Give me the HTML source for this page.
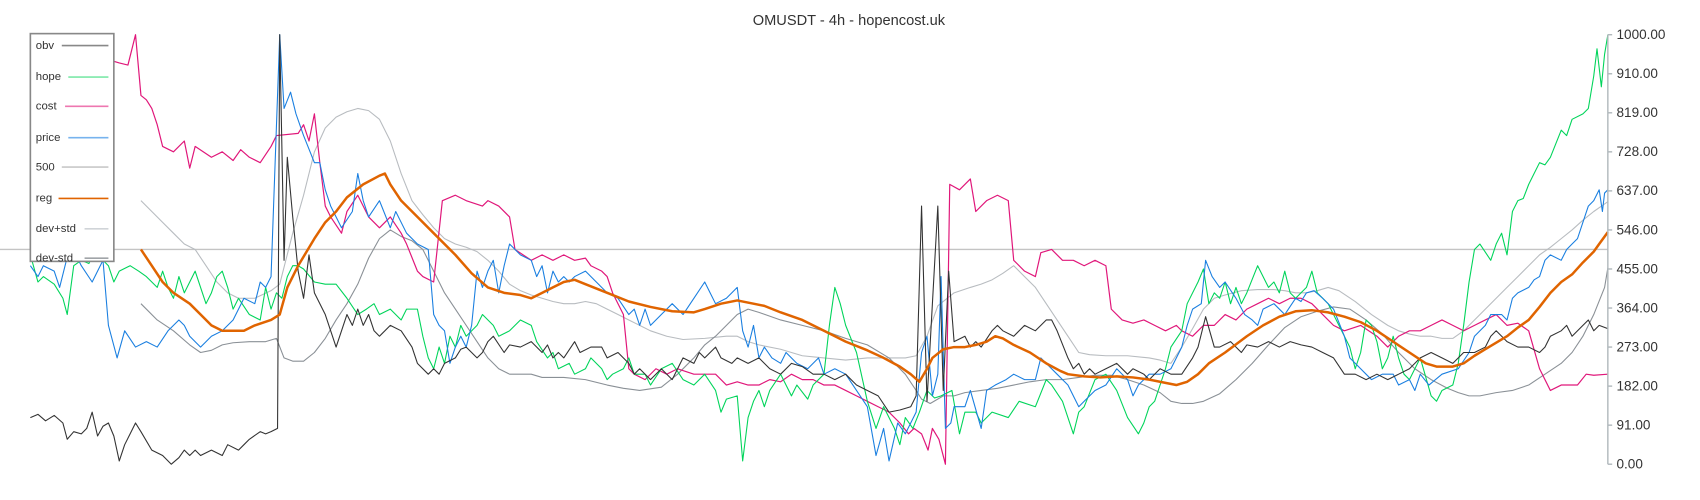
<!DOCTYPE html>
<html><head><meta charset="utf-8"><style>
html,body{margin:0;padding:0;background:#fff;}
svg{display:block;}
text{font-family:"Liberation Sans",sans-serif;fill:#333;}
</style></head><body>
<svg width="1700" height="500" viewBox="0 0 1568 461" preserveAspectRatio="none" xmlns="http://www.w3.org/2000/svg">
<rect width="1568" height="461" fill="#fff"/>
<text x="783" y="23" font-size="13.5" text-anchor="middle" fill="#333">OMUSDT - 4h - hopencost.uk</text>
<line x1="0" y1="230" x2="1483" y2="230" stroke="#c4c4c4" stroke-width="1.3"/>
<g fill="none" stroke-linejoin="round">
<polyline stroke="#b8bcc0" stroke-width="1" points="130,185 140,195 150,205 160,215 170,225 180,230 190,245 200,260 210,270 220,275 235,275 250,268 258,262 270,215 280,180 290,140 300,118 310,108 320,103 330,100 340,102 350,110 360,130 370,160 380,185 390,198 400,210 410,220 420,225 430,228 440,232 450,240 460,250 470,262 480,268 490,272 500,275 510,278 520,280 530,280 540,278 550,280 560,285 570,290 580,295 590,300 600,305 615,310 630,313 650,312 670,310 680,310 690,315 700,318 720,322 740,328 760,330 780,332 800,330 820,330 835,330 845,328 855,310 865,282 880,270 895,265 905,262 915,258 925,252 935,245 945,255 955,265 965,280 975,295 985,310 995,325 1005,327 1020,328 1040,328 1060,330 1070,332 1080,335 1090,320 1100,303 1110,285 1120,275 1130,272 1145,268 1160,267 1175,267 1185,268 1195,270 1205,270 1215,268 1225,265 1235,268 1250,278 1265,290 1280,300 1290,305 1300,308 1310,310 1320,310 1330,312 1340,312 1350,305 1360,295 1370,285 1380,275 1390,265 1400,255 1410,245 1420,235 1430,228 1440,220 1450,212 1460,203 1470,195 1480,188 1483,186"/>
<polyline stroke="#8a9096" stroke-width="1" points="130,280 145,295 160,305 175,318 185,325 195,323 205,318 215,316 230,315 245,315 255,312 262,330 270,333 280,333 290,325 300,312 310,295 320,280 330,262 340,238 350,220 360,212 370,218 380,222 390,230 400,250 410,270 420,285 430,300 440,315 450,330 460,340 470,345 480,345 490,345 500,348 520,348 540,350 560,355 575,358 590,360 610,357 625,345 640,330 650,318 660,310 670,300 680,290 690,285 700,288 720,295 740,300 760,305 780,312 800,318 820,330 835,345 845,360 850,368 858,372 870,365 880,365 890,362 905,360 920,358 935,355 950,352 965,350 980,350 995,348 1010,346 1025,346 1040,350 1055,355 1070,362 1080,370 1090,372 1100,372 1110,370 1125,363 1140,350 1155,335 1170,318 1185,302 1200,292 1215,287 1230,283 1245,285 1260,295 1275,308 1290,325 1305,340 1320,350 1335,358 1345,362 1355,365 1365,365 1380,362 1395,360 1410,355 1425,345 1440,335 1450,325 1460,310 1470,290 1480,265 1483,247"/>
<polyline stroke="#e0177a" stroke-width="1.1" points="100,55 110,58 118,60 125,32 130,88 135,92 140,100 145,115 150,135 160,140 170,130 175,155 180,135 195,145 205,140 215,148 222,138 230,145 240,150 250,135 255,125 275,123 280,115 285,130 290,105 295,150 300,190 305,200 315,215 320,195 330,180 340,200 350,210 360,200 370,215 375,225 385,250 390,255 400,260 408,185 420,180 430,185 445,190 450,185 460,190 470,200 475,230 490,240 500,235 510,240 520,235 530,240 540,238 545,245 555,250 560,255 565,270 575,290 580,340 585,345 595,350 605,340 615,345 625,340 640,345 660,345 670,355 680,352 690,355 700,355 710,350 720,352 730,345 740,350 750,350 760,355 770,355 780,360 790,365 800,370 810,375 820,380 830,390 838,400 843,395 850,400 856,415 860,395 866,405 872,428 876,170 885,175 895,165 900,195 910,185 920,180 930,185 935,240 945,250 955,255 960,233 970,230 980,240 990,240 1000,245 1010,240 1020,245 1025,285 1035,295 1045,298 1055,295 1065,300 1075,305 1085,300 1090,305 1100,310 1105,305 1110,300 1120,300 1130,290 1140,295 1150,285 1160,280 1170,275 1180,280 1190,275 1200,275 1210,280 1220,290 1230,300 1240,305 1255,300 1270,310 1280,320 1290,310 1300,305 1310,305 1320,300 1330,295 1340,300 1350,305 1360,300 1370,295 1380,290 1390,300 1400,298 1410,305 1420,340 1430,360 1440,355 1455,355 1463,345 1470,346 1483,345"/>
<polyline stroke="#00d45a" stroke-width="1" points="28,235 35,260 40,255 50,262 58,275 62,290 68,245 75,240 82,243 88,230 95,240 100,245 105,260 110,250 120,245 128,250 135,255 145,265 150,250 155,265 160,275 165,255 170,270 180,250 185,265 190,280 195,270 200,255 205,250 210,265 215,285 220,275 230,290 240,295 245,265 250,285 255,270 260,275 265,255 270,245 275,245 280,248 290,260 300,262 310,262 320,275 330,290 338,285 345,280 350,290 360,285 370,295 375,285 385,285 390,310 395,330 400,340 405,320 410,335 415,310 420,320 425,300 430,310 440,300 445,290 455,300 460,310 470,305 480,295 490,300 495,315 505,330 510,325 515,340 525,335 530,345 540,340 545,330 555,340 560,350 565,345 575,340 580,330 585,345 595,345 600,355 610,340 620,335 630,350 640,355 650,345 660,360 665,380 670,368 680,365 685,425 690,385 695,370 700,360 705,375 710,360 720,345 730,365 735,355 745,368 750,355 760,345 765,300 770,265 775,280 780,300 790,325 800,370 808,395 815,375 825,395 830,410 835,385 842,395 848,380 855,360 862,367 868,365 878,360 885,400 890,380 900,380 905,390 915,380 930,385 940,370 955,375 965,350 970,355 980,370 985,385 990,400 995,380 1000,375 1010,350 1020,345 1030,360 1040,385 1050,400 1055,390 1060,375 1065,370 1075,340 1080,320 1090,305 1095,280 1105,260 1110,248 1115,280 1120,270 1125,275 1130,260 1135,280 1140,265 1145,280 1150,270 1160,245 1170,265 1175,260 1180,270 1185,250 1190,270 1195,275 1205,265 1210,250 1215,270 1225,280 1235,300 1245,320 1250,340 1255,325 1260,295 1265,300 1270,315 1275,340 1280,330 1285,310 1290,330 1295,345 1300,350 1310,330 1320,365 1325,370 1330,360 1340,355 1345,335 1350,300 1355,260 1360,230 1365,225 1375,240 1380,225 1385,215 1390,235 1395,195 1400,185 1405,183 1410,170 1415,160 1420,150 1425,152 1430,145 1440,120 1445,125 1450,110 1460,105 1465,100 1470,70 1473,45 1477,80 1480,50 1483,32"/>
<polyline stroke="#1a7fe0" stroke-width="1" points="28,245 35,255 40,245 50,250 55,265 60,245 65,225 75,245 85,260 95,240 100,300 108,330 115,305 125,320 135,315 145,320 155,305 165,295 170,300 175,310 185,320 195,310 205,305 210,300 215,295 225,275 235,280 240,260 245,265 250,255 258,32 262,100 268,85 273,105 280,125 290,150 295,150 300,175 305,190 315,210 325,195 330,160 335,185 340,200 350,185 360,210 365,195 375,215 385,225 395,230 400,290 405,300 410,305 415,335 420,320 425,310 430,320 435,300 440,250 445,265 450,250 455,240 460,270 465,245 470,225 480,235 490,240 495,255 500,245 505,270 510,250 515,260 520,255 525,260 530,255 540,250 550,260 560,270 570,275 580,290 585,285 590,300 595,285 600,300 610,290 620,280 630,290 640,275 650,260 655,270 660,280 670,275 680,265 685,305 690,320 695,300 700,330 705,320 712,330 720,335 725,325 735,335 745,340 755,330 760,345 770,340 780,345 790,360 800,375 808,420 815,395 820,425 828,390 835,400 845,380 850,325 855,310 860,365 865,345 868,255 872,395 877,390 880,375 890,375 895,360 905,395 910,360 918,355 928,350 935,345 945,350 955,350 960,330 965,335 975,345 985,355 990,365 995,375 1000,370 1010,360 1020,355 1030,340 1040,350 1045,365 1050,355 1060,345 1070,345 1080,340 1090,320 1095,300 1100,285 1108,280 1112,240 1118,255 1125,265 1130,260 1140,275 1148,290 1155,295 1160,300 1165,285 1175,280 1185,290 1195,275 1200,278 1205,270 1212,268 1220,275 1230,285 1240,310 1245,330 1255,340 1260,345 1265,350 1275,345 1285,345 1290,355 1300,350 1305,360 1310,345 1318,355 1330,345 1345,340 1355,325 1360,310 1370,300 1375,290 1385,290 1390,295 1395,275 1400,270 1410,265 1415,258 1420,255 1425,240 1430,235 1440,240 1445,230 1450,225 1455,220 1460,205 1465,190 1470,185 1475,175 1478,195 1480,178 1483,175"/>
<polyline stroke="#333" stroke-width="1" points="28,385 35,382 42,388 50,383 58,390 62,405 68,398 75,400 80,395 85,380 90,402 95,393 100,390 105,402 110,425 115,410 120,400 125,390 130,398 140,415 150,420 158,428 165,422 170,415 175,420 180,415 185,420 195,415 205,420 210,410 220,415 225,410 230,405 240,398 245,400 250,398 256,395 258,32 262,240 265,145 270,200 275,250 280,275 285,235 290,270 300,290 310,320 315,305 320,290 325,300 330,285 335,300 340,290 345,305 350,310 360,300 370,305 380,320 385,335 395,345 400,340 405,345 410,335 420,330 425,322 430,320 440,330 445,325 450,315 455,310 465,325 470,318 480,320 490,315 500,325 505,318 510,330 515,325 520,330 530,315 535,325 545,320 555,320 560,330 570,325 580,335 585,345 590,340 600,350 610,340 620,350 630,330 640,335 645,325 650,330 660,320 665,330 675,335 680,330 690,335 700,330 710,340 720,345 730,335 740,338 750,345 760,345 770,350 780,345 790,355 800,360 810,365 820,380 830,378 840,375 845,365 850,190 855,370 860,280 865,190 870,360 875,250 880,315 890,310 895,320 900,315 905,320 915,305 920,300 925,305 935,310 945,300 955,305 965,295 970,295 975,305 985,330 990,340 995,335 1000,345 1005,340 1010,345 1020,340 1030,335 1040,345 1045,340 1055,345 1060,350 1070,340 1080,345 1090,345 1100,330 1105,320 1112,292 1120,320 1125,320 1135,315 1145,325 1150,318 1160,320 1170,315 1180,320 1190,315 1200,318 1210,320 1220,325 1230,330 1240,345 1250,345 1260,350 1270,345 1280,350 1290,345 1300,340 1310,330 1320,325 1330,330 1340,335 1350,325 1360,325 1370,320 1375,310 1380,305 1390,315 1400,320 1410,320 1420,325 1425,320 1430,310 1440,305 1445,300 1450,310 1460,300 1465,295 1470,305 1475,300 1483,303"/>
<polyline stroke="#e06400" stroke-width="2.3" points="130,230 140,245 150,260 160,270 175,280 185,290 195,300 205,305 215,305 225,305 235,300 250,295 258,290 265,265 275,245 290,220 300,205 310,195 320,182 335,170 350,162 355,160 360,170 370,185 385,200 400,215 420,235 435,252 450,265 465,270 480,272 490,275 500,270 510,265 520,260 530,258 540,262 560,270 580,278 600,283 620,287 640,288 650,285 665,280 680,277 695,280 705,282 720,288 740,295 760,305 780,315 800,323 815,330 830,338 840,345 848,352 855,340 860,330 870,322 880,320 890,320 900,318 910,315 918,310 925,312 935,318 950,325 965,335 978,342 985,345 1000,347 1015,348 1030,347 1045,348 1060,350 1075,353 1085,355 1095,352 1105,345 1115,335 1130,325 1150,310 1165,300 1180,292 1195,287 1210,286 1225,288 1240,292 1255,297 1270,305 1285,315 1300,325 1315,335 1325,338 1340,338 1350,335 1360,328 1370,322 1380,316 1390,310 1400,302 1410,295 1420,283 1430,270 1440,260 1450,253 1460,242 1470,232 1475,225 1483,214"/>
</g>
<g stroke="#b0b8bc" stroke-width="1.3">
<line x1="1483" y1="32" x2="1483" y2="428"/>
<line x1="1483" y1="32" x2="1487" y2="32"/><line x1="1483" y1="68" x2="1487" y2="68"/><line x1="1483" y1="104" x2="1487" y2="104"/><line x1="1483" y1="140" x2="1487" y2="140"/><line x1="1483" y1="176" x2="1487" y2="176"/><line x1="1483" y1="212" x2="1487" y2="212"/><line x1="1483" y1="248" x2="1487" y2="248"/><line x1="1483" y1="284" x2="1487" y2="284"/><line x1="1483" y1="320" x2="1487" y2="320"/><line x1="1483" y1="356" x2="1487" y2="356"/><line x1="1483" y1="392" x2="1487" y2="392"/><line x1="1483" y1="428" x2="1487" y2="428"/>
</g>
<g font-size="12.5">
<text x="1491" y="36">1000.00</text><text x="1491" y="72">910.00</text><text x="1491" y="108">819.00</text><text x="1491" y="144">728.00</text><text x="1491" y="180">637.00</text><text x="1491" y="216">546.00</text><text x="1491" y="252">455.00</text><text x="1491" y="288">364.00</text><text x="1491" y="324">273.00</text><text x="1491" y="360">182.00</text><text x="1491" y="396">91.00</text><text x="1491" y="432">0.00</text>
</g>
<rect x="28" y="31" width="77" height="210" fill="#fff" stroke="#888" stroke-width="1.5"/>
<g font-size="10.5">
<text x="33" y="45">obv</text><line x1="57" y1="42" x2="100" y2="42" stroke="#888" stroke-width="1.5"/>
<text x="33" y="74">hope</text><line x1="63" y1="71" x2="100" y2="71" stroke="#7de8a8" stroke-width="1.5"/>
<text x="33" y="101">cost</text><line x1="60" y1="98" x2="100" y2="98" stroke="#ee77b0" stroke-width="1.5"/>
<text x="33" y="130">price</text><line x1="63" y1="127" x2="100" y2="127" stroke="#77b3ee" stroke-width="1.5"/>
<text x="33" y="157">500</text><line x1="57" y1="154" x2="100" y2="154" stroke="#c8c8c8" stroke-width="1.5"/>
<text x="33" y="186">reg</text><line x1="54" y1="183" x2="100" y2="183" stroke="#e06400" stroke-width="1.5"/>
<text x="33" y="214">dev+std</text><line x1="78" y1="211" x2="100" y2="211" stroke="#d0d4d8" stroke-width="1.5"/>
<text x="33" y="241">dev-std</text><line x1="78" y1="238" x2="100" y2="238" stroke="#a0a4a8" stroke-width="1.5"/>
</g>
</svg>
</body></html>
